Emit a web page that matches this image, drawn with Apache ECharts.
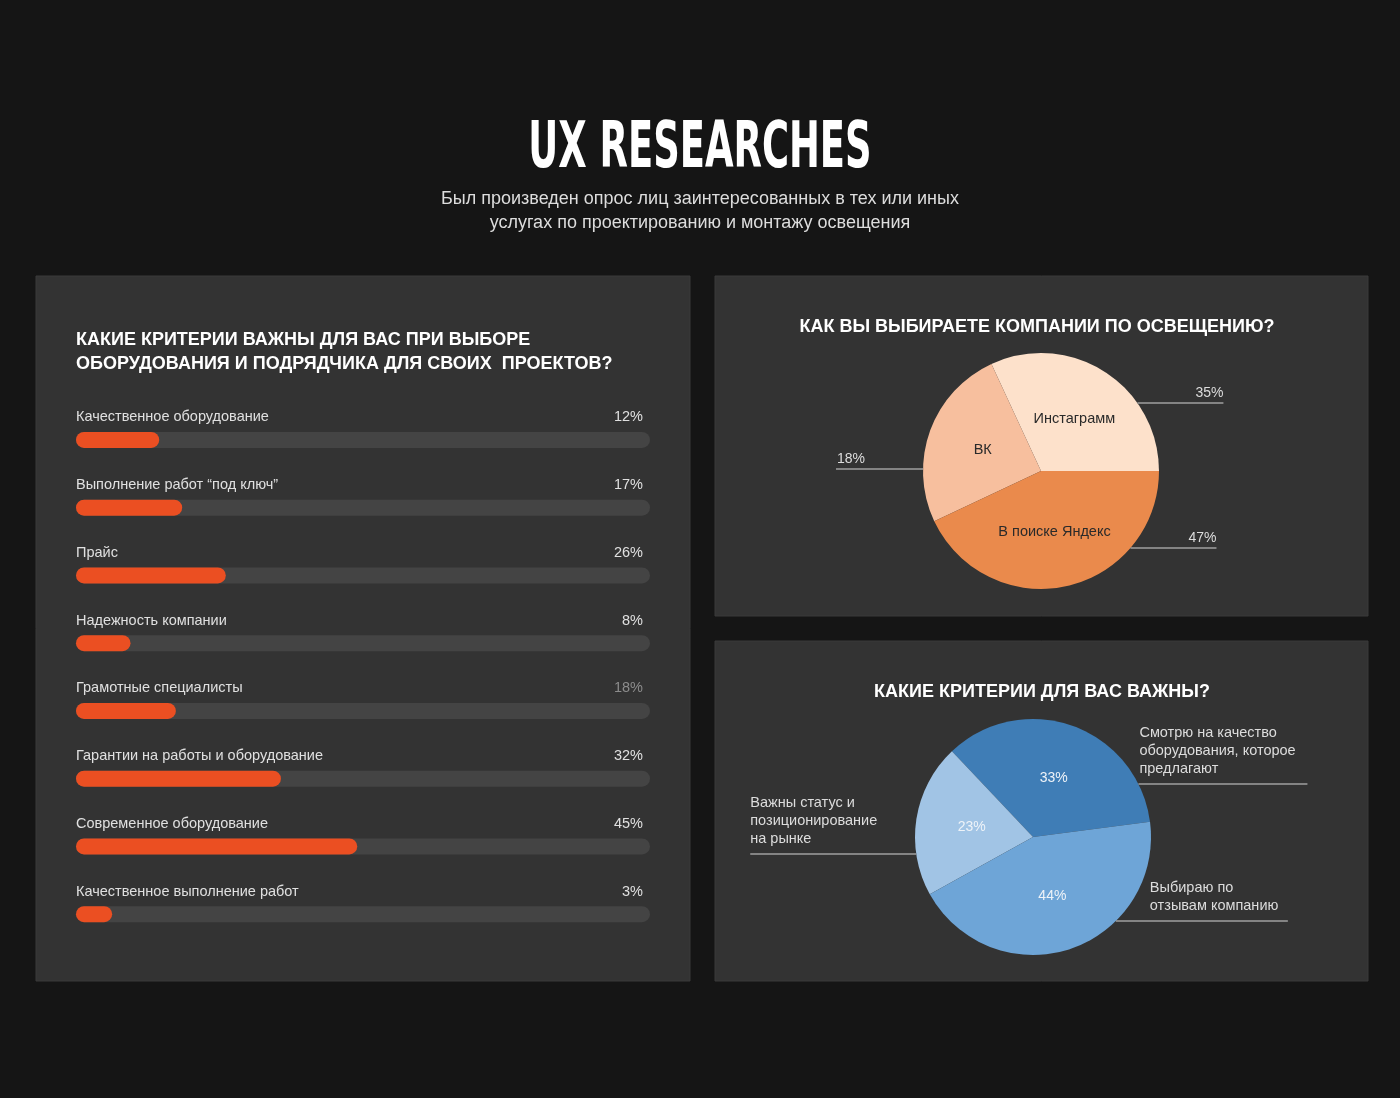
<!DOCTYPE html>
<html>
<head>
<meta charset="utf-8">
<script src="https://cdn.jsdelivr.net/npm/echarts@6/dist/echarts.min.js"></script>
<style>
html,body{margin:0;padding:0;background:#151515;}
#c{width:1400px;height:1098px;}
</style>
</head>
<body>
<div id="c"></div>
<script>
// ---- data ----
const criteria = [
  'Качественное оборудование',
  'Выполнение работ “под ключ”',
  'Прайс',
  'Надежность компании',
  'Грамотные специалисты',
  'Гарантии на работы и оборудование',
  'Современное оборудование',
  'Качественное выполнение работ'
];
const criteriaPct = [12, 17, 26, 8, 18, 32, 45, 3];          // printed labels
const criteriaBar = [14.5, 18.5, 26.1, 9.5, 17.4, 35.7, 49.0, 6.3]; // bar length, % of track

const channels = ['Инстаграмм', 'ВК', 'В поиске Яндекс'];
const channelShare = [31.9, 25.1, 43.0];  // slice sizes
const channelPct = [35, 18, 47];          // printed labels

const reasons = [
  'Смотрю на качество\nоборудования, которое\nпредлагают',
  'Важны статус и\nпозиционирование\nна рынке',
  'Выбираю по\nотзывам компанию'
];
const reasonShare = [35.0, 21.0, 44.0];   // slice sizes
const reasonPct = [33, 23, 44];           // printed labels

// ---- styles ----
const FONT = '"Liberation Sans", Arial, Helvetica, sans-serif';
const ORANGE = '#EB4F22';
const TRACK = '#444444';
const PANEL = '#333333';
const channelColors = ['#FDE1CB', '#F7BF9E', '#EA8A4C'];
const reasonColors = ['#3F7DB6', '#A1C4E5', '#6EA5D7'];

const chart = echarts.init(document.getElementById('c'), null, {renderer: 'canvas'});

function leader(cx, cy, r, cfgs, gap) {
  return function (p) {
    const c = cfgs[p.dataIndex];
    const a = c.ang * Math.PI / 180;
    const ex = cx + r * Math.cos(a);
    const ey = cy - r * Math.sin(a);
    const dir = Math.cos(a) >= 0 ? 1 : -1;
    const endX = ex + dir * c.len;
    return {
      x: ex + dir * c.tx,
      y: ey - gap,
      align: c.align,
      verticalAlign: 'bottom',
      labelLinePoints: [[ex, ey], [ex, ey], [endX, ey]]
    };
  };
}

const pie1 = {c: [1041, 471], r: 118};
const pie2 = {c: [1033, 837], r: 118};

const option = {
  backgroundColor: '#151515',
  animation: false,
  textStyle: {fontFamily: FONT},
  graphic: [
    {type: 'rect', z: -10, shape: {x: 36, y: 276, width: 654, height: 705}, style: {fill: PANEL, stroke: '#3a3a3a', lineWidth: 1}},
    {type: 'rect', z: -10, shape: {x: 715, y: 276, width: 653, height: 340}, style: {fill: PANEL, stroke: '#3a3a3a', lineWidth: 1}},
    {type: 'rect', z: -10, shape: {x: 715, y: 641, width: 653, height: 340}, style: {fill: PANEL, stroke: '#3a3a3a', lineWidth: 1}},
    {type: 'text', x: 700, y: 150, scaleY: 1.56,
      style: {text: 'UX RESEARCHES', x: 0, y: 0, textAlign: 'center', textVerticalAlign: 'middle',
        font: 'bold 41px "Liberation Sans Narrow", "DejaVu Sans Condensed", sans-serif', fill: '#ffffff'}},
    {type: 'text', x: 700, y: 211,
      style: {text: 'Был произведен опрос лиц заинтересованных в тех или иных\nуслугах по проектированию и монтажу освещения',
        x: 0, y: 0, textAlign: 'center', textVerticalAlign: 'middle', lineHeight: 24,
        font: '18px ' + FONT, fill: '#dddddd'}},
    {type: 'text', x: 76, y: 352,
      style: {text: 'КАКИЕ КРИТЕРИИ ВАЖНЫ ДЛЯ ВАС ПРИ ВЫБОРЕ\nОБОРУДОВАНИЯ И ПОДРЯДЧИКА ДЛЯ СВОИХ  ПРОЕКТОВ?',
        x: 0, y: 0, textAlign: 'left', textVerticalAlign: 'middle', lineHeight: 24,
        font: 'bold 18px ' + FONT, fill: '#ffffff'}},
    {type: 'text', x: 1037, y: 327,
      style: {text: 'КАК ВЫ ВЫБИРАЕТЕ КОМПАНИИ ПО ОСВЕЩЕНИЮ?', x: 0, y: 0, textAlign: 'center', textVerticalAlign: 'middle',
        font: 'bold 18px ' + FONT, fill: '#ffffff'}},
    {type: 'text', x: 1042, y: 692,
      style: {text: 'КАКИЕ КРИТЕРИИ ДЛЯ ВАС ВАЖНЫ?', x: 0, y: 0, textAlign: 'center', textVerticalAlign: 'middle',
        font: 'bold 18px ' + FONT, fill: '#ffffff'}}
  ],
  grid: {left: 76, top: 406, width: 574, height: 542, containLabel: false},
  xAxis: {type: 'value', min: 0, max: 100, show: false},
  yAxis: [
    {type: 'category', inverse: true, data: criteria, position: 'left',
      axisLine: {show: false}, axisTick: {show: false}, splitLine: {show: false},
      axisLabel: {inside: true, margin: 0, verticalAlign: 'bottom', padding: [0, 0, 15, 0],
        color: '#e0e0e0', fontSize: 14.5, fontFamily: FONT}},
    {type: 'category', inverse: true, data: criteriaPct, position: 'right',
      axisLine: {show: false}, axisTick: {show: false}, splitLine: {show: false},
      axisLabel: {inside: true, margin: 7, verticalAlign: 'bottom', padding: [0, 0, 15, 0],
        fontSize: 14.5, fontFamily: FONT,
        formatter: function (v, i) { return i === 4 ? '{g|' + v + '%}' : v + '%'; },
        color: '#e0e0e0',
        rich: {g: {color: '#8c8c8c', fontSize: 14.5, fontFamily: FONT}}}}
  ],
  series: [
    {type: 'bar', yAxisIndex: 0, data: criteriaBar, barWidth: 16,
      showBackground: true, backgroundStyle: {color: TRACK, borderRadius: 8},
      itemStyle: {color: ORANGE, borderRadius: 8}, silent: true},
    // pie 1 — inner names
    {type: 'pie', center: pie1.c, radius: pie1.r, startAngle: 0, clockwise: false,
      avoidLabelOverlap: false, silent: true,
      data: channels.map((n, i) => ({name: n, value: channelShare[i], itemStyle: {color: channelColors[i]}})),
      label: {position: 'inside', formatter: '{b}', color: '#2a2a2a', fontSize: 14.5, fontFamily: FONT},
      labelLine: {show: false}},
    // pie 1 — outer percentages
    {type: 'pie', center: pie1.c, radius: pie1.r, startAngle: 0, clockwise: false,
      avoidLabelOverlap: false, silent: true, z: 3,
      data: channels.map((n, i) => ({name: n, value: channelShare[i], itemStyle: {color: 'rgba(0,0,0,0)'}})),
      label: {position: 'outside', formatter: p => channelPct[p.dataIndex] + '%', color: '#dddddd', fontSize: 14, fontFamily: FONT},
      labelLine: {show: true, length: 10, length2: 10, lineStyle: {color: '#a0a0a0', width: 1.5}},
      labelLayout: leader(pie1.c[0], pie1.c[1], pie1.r, [
        {ang: 35.2, len: 86, tx: 86, align: 'right'},
        {ang: 179, len: 87, tx: 86, align: 'left'},
        {ang: 319.3, len: 86, tx: 86, align: 'right'}
      ], 3)},
    // pie 2 — inner percentages
    {type: 'pie', center: pie2.c, radius: pie2.r, startAngle: 7.4, clockwise: false,
      avoidLabelOverlap: false, silent: true,
      data: reasons.map((n, i) => ({name: n, value: reasonShare[i], itemStyle: {color: reasonColors[i]}})),
      label: {position: 'inside', formatter: p => reasonPct[p.dataIndex] + '%', color: '#eef3f8', fontSize: 14, fontFamily: FONT},
      labelLine: {show: false}},
    // pie 2 — outer names
    {type: 'pie', center: pie2.c, radius: pie2.r, startAngle: 7.4, clockwise: false,
      avoidLabelOverlap: false, silent: true, z: 3,
      data: reasons.map((n, i) => ({name: n, value: reasonShare[i], itemStyle: {color: 'rgba(0,0,0,0)'}})),
      label: {position: 'outside', formatter: '{b}', color: '#dddddd', fontSize: 14.5, lineHeight: 18, fontFamily: FONT},
      labelLine: {show: true, length: 10, length2: 10, lineStyle: {color: '#a0a0a0', width: 1.5}},
      labelLayout: leader(pie2.c[0], pie2.c[1], pie2.r, [
        {ang: 26.7, len: 169, tx: 1, align: 'left'},
        {ang: 188.3, len: 166, tx: 166, align: 'left'},
        {ang: 314.6, len: 172, tx: 34, align: 'left'}
      ], 6)}
  ]
};
chart.setOption(option);
</script>
</body>
</html>
